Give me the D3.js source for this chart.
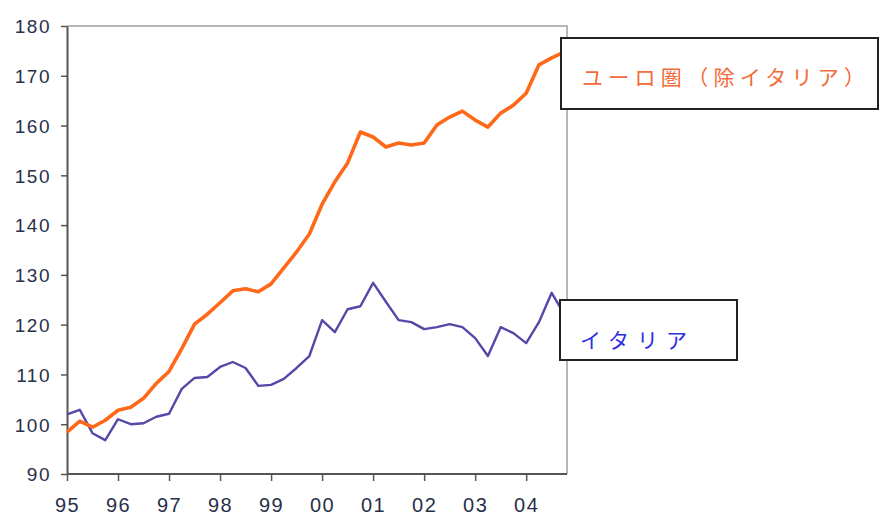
<!DOCTYPE html>
<html lang="ja">
<head>
<meta charset="UTF-8">
<title>ユーロ圏とイタリア</title>
<script src="https://d3js.org/d3.v7.min.js"></script>
<style>
  body { margin: 0; background: #fff; }
  svg { display: block; }
  .tick-label { font-family: "Liberation Sans", Arial, sans-serif; fill: #28304a; letter-spacing: 1.5px; }
  .legend-text { font-family: "Noto Sans CJK JP", sans-serif; }
</style>
</head>
<body>
<svg id="chart" width="880" height="517"></svg>
<script>
// quarterly series, starting 1995 Q1
const startYear = 1995;
const euroExItaly = [
  98.4, 100.6, 99.4, 100.8, 102.8, 103.4, 105.2, 108.2,
  110.6, 115.2, 120.1, 122.1, 124.4, 126.8, 127.2, 126.6,
  128.2, 131.4, 134.6, 138.2, 144.2, 148.7, 152.5, 158.7,
  157.7, 155.7, 156.5, 156.1, 156.5, 160.1, 161.7, 162.9,
  161.1, 159.7, 162.5, 164.1, 166.5, 172.2, 173.6, 174.8
];
const italy = [
  102.0, 102.9, 98.2, 96.8, 101.0, 100.0, 100.2, 101.5,
  102.1, 107.1, 109.3, 109.5, 111.5, 112.5, 111.3, 107.7,
  107.9, 109.1, 111.3, 113.7, 120.9, 118.5, 123.1, 123.7,
  128.4, 124.6, 120.9, 120.5, 119.1, 119.5, 120.1, 119.5,
  117.3, 113.7, 119.5, 118.3, 116.3, 120.5, 126.4, 122.0
];
const yearTicks = [1995, 1996, 1997, 1998, 1999, 2000, 2001, 2002, 2003, 2004];
const yearLabels = ["95", "96", "97", "98", "99", "00", "01", "02", "03", "04"];
const valueTicks = [90, 100, 110, 120, 130, 140, 150, 160, 170, 180];
const seriesNames = ["ユーロ圏（除イタリア）", "イタリア"];

const plot = { left: 67, right: 567, top: 26, bottom: 474 };

const svg = d3.select("#chart");

const x = d3.scaleLinear().domain([1995, 2004.8]).range([plot.left, plot.right]);
const y = d3.scaleLinear().domain([90, 180]).range([plot.bottom, plot.top]);

// frame: top and right light grey
svg.append("path")
  .attr("d", `M${plot.left},${plot.top}H${plot.right}V${plot.bottom}`)
  .attr("fill", "none")
  .attr("stroke", "#a0a0a0")
  .attr("stroke-width", 1.5);

// y axis
const yAxis = svg.append("g")
  .attr("transform", `translate(${plot.left},0)`)
  .call(d3.axisLeft(y).tickValues(valueTicks).tickSize(6).tickSizeOuter(0).tickPadding(10));
yAxis.select(".domain").attr("stroke", "#555").attr("stroke-width", 2);
yAxis.selectAll(".tick line").attr("stroke", "#555").attr("stroke-width", 1.5);
yAxis.selectAll(".tick text")
  .attr("class", "tick-label")
  .attr("font-size", 19)
  .attr("dy", "0.36em");

// x axis
const xAxis = svg.append("g")
  .attr("transform", `translate(0,${plot.bottom})`)
  .call(d3.axisBottom(x).tickValues(yearTicks).tickFormat((d, i) => yearLabels[i]).tickSize(7).tickSizeOuter(0).tickPadding(0));
xAxis.select(".domain").attr("stroke", "#555").attr("stroke-width", 2)
  .attr("d", `M${plot.left},0H${plot.right}`);
xAxis.selectAll(".tick line").attr("stroke", "#555").attr("stroke-width", 1.5);
xAxis.selectAll(".tick text")
  .attr("class", "tick-label")
  .attr("font-size", 20)
  .attr("dy", 0)
  .attr("y", 38);

const line = d3.line()
  .x((d, i) => x(startYear + i / 4))
  .y(d => y(d));

svg.append("path")
  .datum(italy)
  .attr("d", line)
  .attr("fill", "none")
  .attr("stroke", "#5548a8")
  .attr("stroke-width", 2.4)
  .attr("stroke-linejoin", "round");

svg.append("path")
  .datum(euroExItaly)
  .attr("d", line)
  .attr("fill", "none")
  .attr("stroke", "#ff6818")
  .attr("stroke-width", 3.6)
  .attr("stroke-linejoin", "round");

// label boxes
const labels = [
  { name: seriesNames[0], bx: 561, by: 38, bw: 317, bh: 71, tx: 582, ty: 85, len: 283, color: "#f26b3a" },
  { name: seriesNames[1], bx: 560, by: 300, bw: 177, bh: 60, tx: 580, ty: 348, len: 107, color: "#2d2de6" }
];
labels.forEach(l => {
  svg.append("rect")
    .attr("x", l.bx).attr("y", l.by)
    .attr("width", l.bw).attr("height", l.bh)
    .attr("fill", "#fff")
    .attr("stroke", "#222")
    .attr("stroke-width", 2);
  svg.append("text")
    .attr("class", "legend-text")
    .attr("x", l.tx).attr("y", l.ty)
    .attr("font-size", 21)
    .attr("fill", l.color)
    .attr("textLength", l.len)
    .attr("lengthAdjust", "spacing")
    .text(l.name);
});
</script>
</body>
</html>
